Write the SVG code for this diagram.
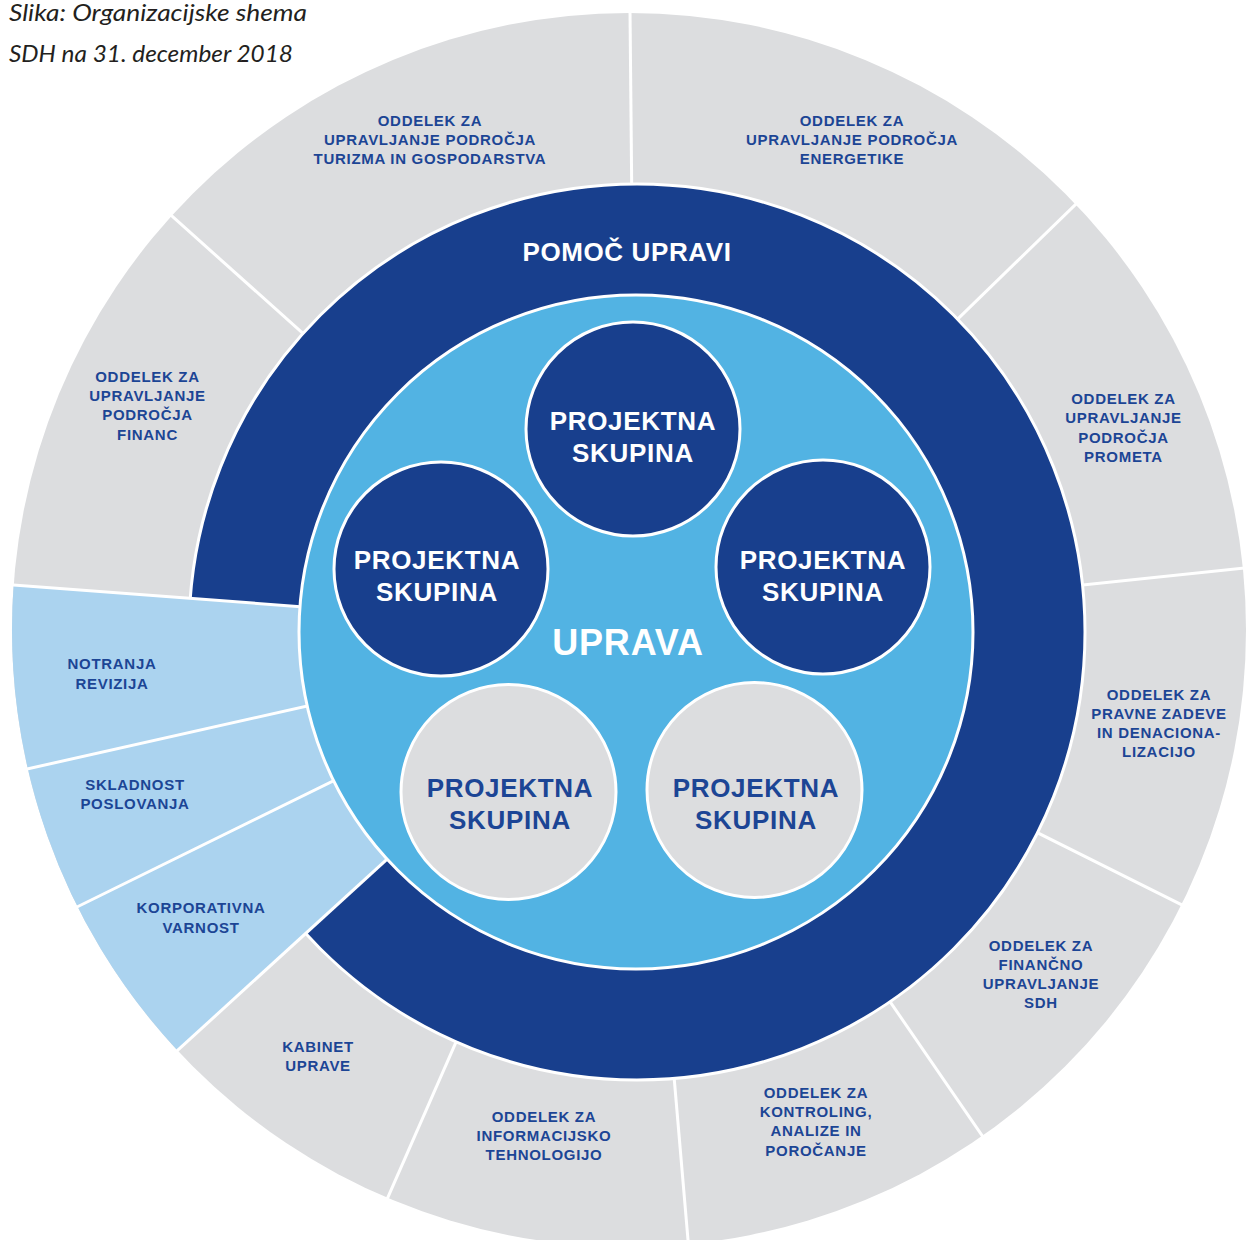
<svg xmlns="http://www.w3.org/2000/svg" width="1247" height="1240" viewBox="0 0 1247 1240">
  <style>
    .title { font-family: "Lato", "Open Sans", "Liberation Sans", sans-serif; font-style: italic; font-weight: 400; font-size: 23px; fill: #231f20; }
    .seg { font-family: "Liberation Sans", Arial, sans-serif; font-weight: bold; font-size: 15px; letter-spacing: 0.7px; fill: #1c4595; text-anchor: middle; }
    .pg { font-family: "Liberation Sans", Arial, sans-serif; font-weight: bold; font-size: 26px; letter-spacing: 0.7px; text-anchor: middle; }
    .pg-w { fill: #ffffff; }
    .pg-b { fill: #1c4595; }
    .dark { fill: #183f8d; stroke: #ffffff; stroke-width: 3; }
    .grayc { fill: #dcdddf; stroke: #ffffff; stroke-width: 3; }
    .div { stroke: #ffffff; stroke-width: 3; fill: none; }
    .big { font-family: "Liberation Sans", Arial, sans-serif; font-weight: bold; fill: #ffffff; text-anchor: middle; }
  </style>

  <g id="title">
    <text class="title" x="9" y="21" textLength="298" lengthAdjust="spacingAndGlyphs">Slika: Organizacijske shema</text>
    <text class="title" x="9" y="62" textLength="284" lengthAdjust="spacingAndGlyphs">SDH na 31. december 2018</text>
  </g>

  <!-- base outer ring -->
  <circle id="outer-ring" cx="629" cy="630" r="617" fill="#dcdddf"/>

  <g id="gray-dividers" class="div">
    <path d="M636 632 L629.8 -10"/>
    <path d="M636 632 L153.4 199.4"/>
    <path d="M636 632 L1092.6 187.9"/>
    <path d="M636 632 L1269.4 565.4"/>
    <path d="M636 632 L1203.8 915.9"/>
    <path d="M636 632 L996.9 1157.2"/>
    <path d="M636 632 L690.1 1264.3"/>
    <path d="M636 632 L378.1 1219.6"/>
  </g>

  <g id="pomoc-upravi">
    <circle class="dark" cx="637" cy="632" r="448"/>
  </g>

  <path id="control-wedge" d="M13.6 585.1 A617 617 0 0 0 177.5 1050.5 L636 632 Z" fill="#abd3ef"/>

  <g id="wedge-dividers" class="div">
    <path d="M636 632 L-13 583.1"/>
    <path d="M636 632 L2.6 774.5"/>
    <path d="M636 632 L54.6 918"/>
    <path d="M636 632 L159.7 1066.7"/>
  </g>

  <g id="uprava">
    <circle cx="636" cy="632" r="337" fill="#52b3e3" stroke="#ffffff" stroke-width="3"/>
    <text class="big" x="628" y="655" font-size="36" letter-spacing="0.8">UPRAVA</text>
  </g>

  <g id="pomoc-label">
    <text class="big" x="627" y="261" font-size="26" letter-spacing="0.6">POMOČ UPRAVI</text>
  </g>

  <g id="skupina-top">
    <circle class="dark" cx="633" cy="429" r="107"/>
    <text class="pg pg-w" x="633" y="429.5">PROJEKTNA</text>
    <text class="pg pg-w" x="633" y="461.5">SKUPINA</text>
  </g>
  <g id="skupina-left">
    <circle class="dark" cx="441" cy="569" r="107"/>
    <text class="pg pg-w" x="437" y="568.5">PROJEKTNA</text>
    <text class="pg pg-w" x="437" y="600.5">SKUPINA</text>
  </g>
  <g id="skupina-right">
    <circle class="dark" cx="823" cy="567" r="107"/>
    <text class="pg pg-w" x="823" y="568.5">PROJEKTNA</text>
    <text class="pg pg-w" x="823" y="600.5">SKUPINA</text>
  </g>
  <g id="skupina-bottom-left">
    <circle class="grayc" cx="508.5" cy="792" r="107.5"/>
    <text class="pg pg-b" x="510" y="796.5">PROJEKTNA</text>
    <text class="pg pg-b" x="510" y="828.5">SKUPINA</text>
  </g>
  <g id="skupina-bottom-right">
    <circle class="grayc" cx="754.5" cy="790" r="107.5"/>
    <text class="pg pg-b" x="756" y="796.5">PROJEKTNA</text>
    <text class="pg pg-b" x="756" y="828.5">SKUPINA</text>
  </g>

  <g id="seg-turizem">
    <text class="seg" x="430" y="126">ODDELEK ZA</text>
    <text class="seg" x="430" y="145">UPRAVLJANJE PODROČJA</text>
    <text class="seg" x="430" y="164">TURIZMA IN GOSPODARSTVA</text>
  </g>
  <g id="seg-energetika">
    <text class="seg" x="852" y="126">ODDELEK ZA</text>
    <text class="seg" x="852" y="145">UPRAVLJANJE PODROČJA</text>
    <text class="seg" x="852" y="164">ENERGETIKE</text>
  </g>
  <g id="seg-promet">
    <text class="seg" x="1123.5" y="404">ODDELEK ZA</text>
    <text class="seg" x="1123.5" y="423">UPRAVLJANJE</text>
    <text class="seg" x="1123.5" y="442.5">PODROČJA</text>
    <text class="seg" x="1123.5" y="462">PROMETA</text>
  </g>
  <g id="seg-pravne">
    <text class="seg" x="1159" y="700">ODDELEK ZA</text>
    <text class="seg" x="1159" y="719">PRAVNE ZADEVE</text>
    <text class="seg" x="1159" y="738">IN DENACIONA-</text>
    <text class="seg" x="1159" y="757">LIZACIJO</text>
  </g>
  <g id="seg-financno">
    <text class="seg" x="1041" y="950.5">ODDELEK ZA</text>
    <text class="seg" x="1041" y="969.5">FINANČNO</text>
    <text class="seg" x="1041" y="988.5">UPRAVLJANJE</text>
    <text class="seg" x="1041" y="1007.5">SDH</text>
  </g>
  <g id="seg-kontroling">
    <text class="seg" x="816" y="1097.5">ODDELEK ZA</text>
    <text class="seg" x="816" y="1116.5">KONTROLING,</text>
    <text class="seg" x="816" y="1136">ANALIZE IN</text>
    <text class="seg" x="816" y="1155.5">POROČANJE</text>
  </g>
  <g id="seg-it">
    <text class="seg" x="544" y="1121.5">ODDELEK ZA</text>
    <text class="seg" x="544" y="1140.5">INFORMACIJSKO</text>
    <text class="seg" x="544" y="1159.5">TEHNOLOGIJO</text>
  </g>
  <g id="seg-kabinet">
    <text class="seg" x="318" y="1052">KABINET</text>
    <text class="seg" x="318" y="1071">UPRAVE</text>
  </g>
  <g id="seg-varnost">
    <text class="seg" x="201" y="913">KORPORATIVNA</text>
    <text class="seg" x="201" y="932.5">VARNOST</text>
  </g>
  <g id="seg-skladnost">
    <text class="seg" x="135" y="790">SKLADNOST</text>
    <text class="seg" x="135" y="809">POSLOVANJA</text>
  </g>
  <g id="seg-revizija">
    <text class="seg" x="112" y="669">NOTRANJA</text>
    <text class="seg" x="112" y="688.5">REVIZIJA</text>
  </g>
  <g id="seg-finance">
    <text class="seg" x="147.5" y="381.5">ODDELEK ZA</text>
    <text class="seg" x="147.5" y="400.5">UPRAVLJANJE</text>
    <text class="seg" x="147.5" y="420">PODROČJA</text>
    <text class="seg" x="147.5" y="439.5">FINANC</text>
  </g>
</svg>
